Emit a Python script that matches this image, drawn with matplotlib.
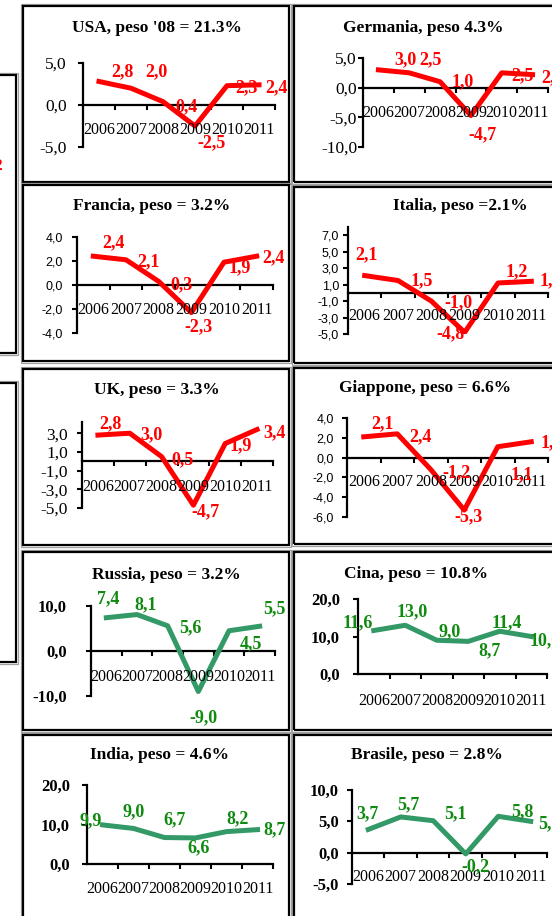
import matplotlib
matplotlib.use('Agg')
import matplotlib.pyplot as plt
from matplotlib import transforms
from matplotlib.patches import Rectangle

W, H = 552, 916
SERIF = 'Liberation Serif'
SANS = 'Liberation Sans'

# ---- data ----
years = ['2006', '2007', '2008', '2009', '2010', '2011']

titles = ["USA, peso '08 = 21.3%", 'Germania, peso 4.3%',
          'Francia, peso = 3.2%', 'Italia, peso =2.1%',
          'UK, peso = 3.3%', 'Giappone, peso = 6.6%',
          'Russia, peso = 3.2%', 'Cina, peso = 10.8%',
          'India, peso = 4.6%', 'Brasile, peso = 2.8%']

usa = [2.8, 2.0, 0.4, -2.5, 2.3, 2.4]
germania = [3.0, 2.5, 1.0, -4.7, 2.5, 2.2]
francia = [2.4, 2.1, 0.3, -2.3, 1.9, 2.4]
italia = [2.1, 1.5, -1.0, -4.8, 1.2, 1.4]
uk = [2.8, 3.0, 0.5, -4.7, 1.9, 3.4]
giappone = [2.1, 2.4, -1.2, -5.3, 1.1, 1.6]
russia = [7.4, 8.1, 5.6, -9.0, 4.5, 5.5]
cina = [11.6, 13.0, 9.0, 8.7, 11.4, 10.0]
india = [9.9, 9.0, 6.7, 6.6, 8.2, 8.7]
brasile = [3.7, 5.7, 5.1, -0.2, 5.8, 5.0]

series = [usa, germania, francia, italia, uk, giappone, russia, cina, india, brasile]
emerging = [False] * 6 + [True] * 4

yticks = [[-5, 0, 5], [-10, -5, 0, 5], [-4, -2, 0, 2, 4],
          [-5, -3, -1, 1, 3, 5, 7], [-5, -3, -1, 1, 3], [-6, -4, -2, 0, 2, 4],
          [-10, 0, 10], [0, 10, 20], [0, 10, 20], [-5, 0, 5, 10]]

# ---- layout (pixels) ----
layout = [
    dict(frame=(23, 6, 289, 182), axes=(83, 275, 63, 147), ylim=(-5, 5),
         title=(157, 28), yr=130, tick='serif', pad=11,
         offs=[(23, 10), (25, 16), (24, -5), (17, -17), (19, -2), (17, -3)]),
    dict(frame=(294, 6, 556, 182), axes=(363, 548, 58, 147), ylim=(-10, 5),
         title=(423, 28), yr=113, tick='serif', pad=1,
         offs=[(27, 10), (21, 13), (23, 0), (12, -19), (21, -3), (20, -3)]),
    dict(frame=(23, 185, 289, 361), axes=(77, 273, 237, 333), ylim=(-4, 4),
         title=(152, 206), yr=310, tick='sans', pad=9,
         offs=[(20, 13), (22, -2), (23, -3), (7, -14), (16, -6), (17, -2)]),
    dict(frame=(294, 187, 556, 363), axes=(348, 548, 227, 334), ylim=(-5, 8),
         title=(460, 206), yr=316, tick='sans', pad=4,
         offs=[(2, 21), (24, 0), (27, -2), (-14, -1), (19, 11), (19, 1)]),
    dict(frame=(23, 369, 289, 545), axes=(82, 273, 422, 508), ylim=(-5, 4.2),
         title=(157, 390), yr=487, tick='serif', pad=9,
         offs=[(13, 11), (22, -2), (21, -3), (12, -7), (15, -2), (17, -3)]),
    dict(frame=(294, 368, 556, 544), axes=(347, 548, 418, 517), ylim=(-6, 4),
         title=(425, 388), yr=482, tick='sans', pad=8,
         offs=[(19, 13), (23, -3), (26, -3), (4, -7), (24, -28), (20, -1)]),
    dict(frame=(23, 552, 289, 730), axes=(91, 275, 606, 696), ylim=(-10, 10),
         title=(166, 575), yr=677, tick='bold', pad=19,
         offs=[(2, 19), (9, 10), (23, -2), (5, -26), (22, -13), (15, 18)]),
    dict(frame=(294, 552, 556, 730), axes=(358, 547, 599, 674), ylim=(0, 20),
         title=(416, 574), yr=701, tick='bold', pad=13,
         offs=[(-16, 8), (7, 14), (13, 9), (21, -9), (7, 9), (14, -4)]),
    dict(frame=(23, 735, 289, 925), axes=(87, 273, 785, 864), ylim=(0, 20),
         title=(159, 755), yr=889, tick='bold', pad=12,
         offs=[(-12, 4), (0, 17), (10, 18), (3, -10), (11, 13), (17, 0)]),
    dict(frame=(294, 735, 556, 925), axes=(352, 547, 790, 884), ylim=(-5, 10),
         title=(427, 755), yr=877, tick='bold', pad=8,
         offs=[(-1, 16), (8, 12), (22, 7), (10, -13), (24, 5), (19, -2)]),
]


def fx(px):
    return px / W


def fy(py):
    return 1 - py / H


def comma(v):
    return ('%.1f' % v).replace('.', ',')


def frame(fig, x0, y0, x1, y1):
    fig.patches.append(Rectangle((fx(x0 - 2), fy(y1 + 2)), (x1 - x0 + 4) / W, (y1 - y0 + 4) / H,
                                 transform=fig.transFigure, fill=False, ec='#a0a0a0', lw=0.9))
    fig.patches.append(Rectangle((fx(x0), fy(y1)), (x1 - x0) / W, (y1 - y0) / H,
                                 transform=fig.transFigure, fill=False, ec='black', lw=1.6))


fig = plt.figure(figsize=(W / 100, H / 100), dpi=100)

# pieces of neighbouring boxes on the left edge
frame(fig, -10, 75, 16, 353)
frame(fig, -10, 383, 16, 662)
fig.text(fx(2), fy(166), '2', color='red', fontfamily=SERIF, fontweight='bold',
         fontsize=12.5, ha='right', va='center')

for vals, title, ticks, lay, green in zip(series, titles, yticks, layout, emerging):
    frame(fig, *lay['frame'])
    a0, a1, at, ab = lay['axes']
    ax = fig.add_axes([fx(a0), fy(ab), (a1 - a0) / W, (ab - at) / H])
    ax.patch.set_visible(False)
    ax.set_xlim(-0.5, 5.5)
    ax.set_ylim(*lay['ylim'])

    for s in ['top', 'right']:
        ax.spines[s].set_visible(False)
    ax.spines['left'].set_linewidth(1.6)
    ax.spines['bottom'].set_linewidth(1.6)
    ax.spines['bottom'].set_position(('data', 0))

    ax.set_xticks([i + 0.5 for i in range(6)])
    ax.tick_params(axis='x', direction='out', length=3.5, width=1.5, labelbottom=False)

    if lay['tick'] == 'sans':
        tk = dict(fontfamily=SANS, fontsize=9)
    elif lay['tick'] == 'bold':
        tk = dict(fontfamily=SERIF, fontsize=12, fontweight='bold')
    else:
        tk = dict(fontfamily=SERIF, fontsize=12.5)
    ax.set_yticks(ticks, labels=[comma(t) for t in ticks], **tk)
    ax.tick_params(axis='y', direction='out', length=3.6, width=1.5, pad=lay['pad'] / 1.389)

    line_c = '#339966' if green else '#ff0000'
    lab_c = '#108a10' if green else '#ff0000'
    ax.plot(range(6), vals, color=line_c, lw=3.6, solid_joinstyle='round', zorder=3)

    for i, v in enumerate(vals):
        ax.annotate(comma(v), (i, v), xytext=lay['offs'][i], textcoords='offset pixels',
                    ha='center', va='center', color=lab_c, fontfamily=SERIF,
                    fontweight='bold', fontsize=13, annotation_clip=False, zorder=4)

    tr = transforms.blended_transform_factory(ax.transData, fig.transFigure)
    for i, yr in enumerate(years):
        ax.text(i, fy(lay['yr']), yr, transform=tr, ha='center', va='center',
                fontfamily=SERIF, fontsize=11.5)

    fig.text(fx(lay['title'][0]), fy(lay['title'][1]), title, ha='center', va='center',
             fontfamily=SERIF, fontweight='bold', fontsize=12.5)

fig.savefig('out.png', dpi=100)
